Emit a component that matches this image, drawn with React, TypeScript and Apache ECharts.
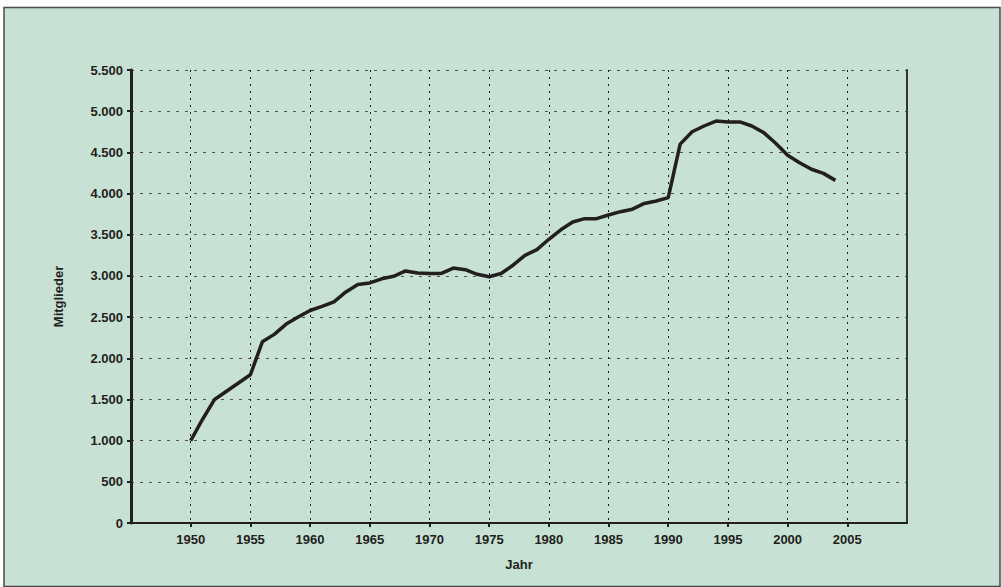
import React, { useEffect, useRef } from "react";
import * as echarts from "echarts";

const years: number[] = [
  1950, 1951, 1952, 1953, 1954, 1955, 1956, 1957, 1958, 1959,
  1960, 1961, 1962, 1963, 1964, 1965, 1966, 1967, 1968, 1969,
  1970, 1971, 1972, 1973, 1974, 1975, 1976, 1977, 1978, 1979,
  1980, 1981, 1982, 1983, 1984, 1985, 1986, 1987, 1988, 1989,
  1990, 1991, 1992, 1993, 1994, 1995, 1996, 1997, 1998, 1999,
  2000, 2001, 2002, 2003, 2004,
];
const members: number[] = [
  1000, 1260, 1500, 1600, 1700, 1800, 2200, 2290, 2415, 2500,
  2580, 2630, 2685, 2805, 2895, 2915, 2965, 2995, 3060, 3035,
  3030, 3030, 3095, 3075, 3020, 2990, 3030, 3130, 3250, 3320,
  3445, 3560, 3655, 3695, 3695, 3740, 3780, 3810, 3880, 3910,
  3950, 4600, 4750, 4820, 4880, 4870, 4870, 4820, 4740, 4610,
  4465, 4375, 4295, 4245, 4160,
];
const xMin = 1945;
const xMax = 2010;
const xStep = 5;
const yMin = 0;
const yMax = 5500;
const yStep = 500;
const xName = "Jahr";
const yName = "Mitglieder";

const fmt = (v: number) => String(v).replace(/\B(?=(\d{3})+(?!\d))/g, ".");

export default function App() {
  const ref = useRef<HTMLDivElement>(null);
  useEffect(() => {
    if (!ref.current) return;
    const chart = echarts.init(ref.current, undefined, { renderer: "svg" });
    const font = "'Liberation Sans', Arial, Helvetica, sans-serif";
    const dark = "#231f20";
    chart.setOption({
      animation: false,
      backgroundColor: "#ffffff",
      graphic: [
        {
          type: "rect",
          z: -10,
          silent: true,
          shape: { x: 4, y: 7.5, width: 996, height: 579 },
          style: { fill: "#c7e1d5", stroke: "#4a4a4a", lineWidth: 1.5 },
        },
      ],
      grid: { left: 131, top: 70, right: 94, bottom: 64 },
      xAxis: {
        type: "value",
        min: xMin,
        max: xMax,
        interval: xStep,
        name: xName,
        nameLocation: "middle",
        nameGap: 35,
        nameTextStyle: { fontFamily: font, fontWeight: "bold", fontSize: 13, color: dark },
        axisLine: { show: true, onZero: false, lineStyle: { color: dark, width: 2 } },
        axisTick: { show: true, length: 4, inside: false, lineStyle: { color: dark, width: 2 } },
        axisLabel: {
          showMinLabel: false,
          showMaxLabel: false,
          margin: 10,
          fontFamily: font,
          fontWeight: "bold",
          fontSize: 13,
          color: dark,
          formatter: (v: number) => String(v),
        },
        splitLine: { show: true, lineStyle: { color: "#1a1a1a", width: 1, type: [2, 5] } },
      },
      yAxis: [
        {
          type: "value",
          min: yMin,
          max: yMax,
          interval: yStep,
          name: yName,
          nameLocation: "middle",
          nameGap: 66,
          nameTextStyle: { fontFamily: font, fontWeight: "bold", fontSize: 13, color: dark },
          axisLine: { show: true, lineStyle: { color: dark, width: 3 } },
          axisTick: { show: true, length: 4, inside: false, lineStyle: { color: dark, width: 2 } },
          axisLabel: {
            margin: 8,
            fontFamily: font,
            fontWeight: "bold",
            fontSize: 13,
            color: dark,
            formatter: (v: number) => fmt(v),
          },
          splitLine: { show: true, lineStyle: { color: "#555555", width: 1, type: [3, 6] } },
        },
        {
          type: "value",
          position: "right",
          min: yMin,
          max: yMax,
          interval: yStep,
          axisLine: { show: true, lineStyle: { color: "#333333", width: 2 } },
          axisTick: { show: false },
          axisLabel: { show: false },
          splitLine: { show: false },
        },
      ],
      series: [
        {
          type: "line",
          yAxisIndex: 0,
          data: years.map((y, i) => [y, members[i]]),
          showSymbol: false,
          symbol: "none",
          lineStyle: { color: dark, width: 3.5 },
        },
      ],
    });
    return () => chart.dispose();
  }, []);
  return (
    <div
      ref={ref}
      style={{ position: "fixed", left: 0, top: 0, width: 1001, height: 587 }}
    />
  );
}
